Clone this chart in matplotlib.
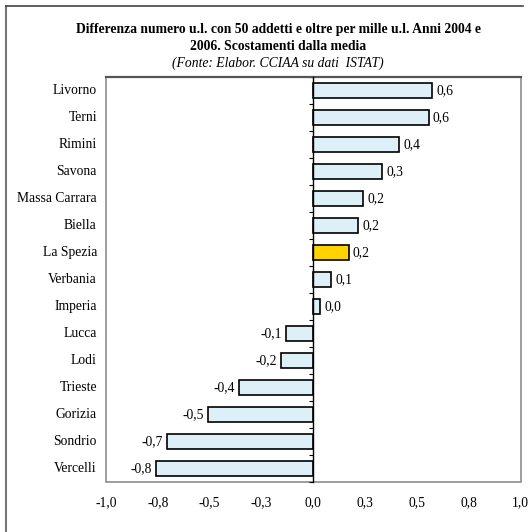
import numpy as np
import matplotlib
matplotlib.use("Agg")
import matplotlib.pyplot as plt
from matplotlib.patches import Rectangle
from matplotlib.lines import Line2D

plt.rcParams['font.family'] = ['Liberation Serif', 'DejaVu Serif']

# data (top to bottom)
province = ["Livorno", "Terni", "Rimini", "Savona", "Massa Carrara", "Biella",
            "La Spezia", "Verbania", "Imperia", "Lucca", "Lodi", "Trieste",
            "Gorizia", "Sondrio", "Vercelli"]
scarto = [0.572, 0.557, 0.415, 0.333, 0.241, 0.216, 0.170, 0.087, 0.032,
          -0.130, -0.156, -0.360, -0.507, -0.705, -0.760]
evidenza = "La Spezia"
xticks = [-1.0, -0.75, -0.5, -0.25, 0.0, 0.25, 0.5, 0.75, 1.0]
xtick_labels = ["-1,0", "-0,8", "-0,5", "-0,3", "0,0", "0,3", "0,5", "0,8", "1,0"]

fig = plt.figure(figsize=(5.28, 5.32), dpi=100)
ax = fig.add_axes([106 / 528, 1 - 482 / 532, 414.7 / 528, 405 / 532])

y = np.arange(len(province))
colori = ["#FFD200" if p == evidenza else "#DDEFF7" for p in province]
ax.barh(y, scarto, height=0.55, color=colori, edgecolor="black", linewidth=1.2, zorder=3)

for yi, v in zip(y, scarto):
    testo = f"{v:.1f}".replace(".", ",")
    if v >= 0:
        ax.text(v + 0.02, yi, testo, ha="left", va="center", fontsize=9.8)
    else:
        ax.text(v - 0.02, yi, testo, ha="right", va="center", fontsize=9.8)
    ax.text(-0.022, yi, province[yi], transform=ax.get_yaxis_transform(),
            ha="right", va="center", fontsize=9.8)

ax.set_xlim(-1, 1)
ax.set_ylim(len(province) - 0.5, -0.5)

# zero axis with small ticks between categories
ax.spines["left"].set_position(("data", 0))
ax.spines["left"].set_color("black")
ax.spines["left"].set_linewidth(1.0)
ax.spines["left"].set_zorder(4)
ax.set_yticks([])
ax.set_yticks(np.arange(-0.5, len(province), 1.0), minor=True)
ax.tick_params(axis="y", which="minor", length=3, width=0.8, direction="out")
for s in ["top", "right", "bottom"]:
    ax.spines[s].set_visible(False)

# plot area frame
ax.add_patch(Rectangle((0, 0), 1, 1, transform=ax.transAxes, fill=False,
                       edgecolor="#8c8c8c", linewidth=1.2, zorder=1, clip_on=False))
ax.plot([0, 1], [1, 1], transform=ax.transAxes, color="#555555", lw=1.6, clip_on=False)

ax.set_xticks(xticks)
ax.set_xticklabels(xtick_labels, fontsize=9.8)
ax.tick_params(axis="x", length=0, pad=10)

# titles
fig.text(278 / 528, 1 - 30 / 532, "Differenza numero u.l. con 50 addetti e oltre per mille u.l. Anni 2004 e",
         ha="center", va="center", fontsize=9.8, fontweight="bold")
fig.text(278 / 528, 1 - 47 / 532, "2006. Scostamenti dalla media",
         ha="center", va="center", fontsize=9.8, fontweight="bold")
fig.text(278 / 528, 1 - 63 / 532, "(Fonte: Elabor. CCIAA su dati  ISTAT)",
         ha="center", va="center", fontsize=9.8, style="italic")

# outer frame (left and top edges visible)
fig.add_artist(Line2D([5.5 / 528, 5.5 / 528], [0, 1 - 5.5 / 532], color="#777777", lw=1.5))
fig.add_artist(Line2D([5.5 / 528, 523 / 528], [1 - 5.5 / 532, 1 - 5.5 / 532], color="#444444", lw=1.2))

fig.savefig("out.png", dpi=100)
